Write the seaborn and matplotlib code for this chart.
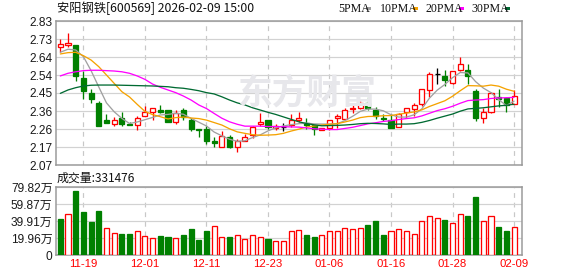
import numpy as np
import matplotlib
matplotlib.use("Agg")
import matplotlib.pyplot as plt
import seaborn as sns
from matplotlib.patches import Rectangle

# ---------------- data ----------------
title = "安阳钢铁[600569] 2026-02-09 15:00"
vol_title = "成交量:331476"
watermark = "东方财富"

opens = [2.694, 2.705, 2.703, 2.529, 2.450, 2.397, 2.308, 2.286, 2.318, 2.288,
         2.280, 2.330, 2.351, 2.360, 2.360, 2.299, 2.360, 2.308, 2.260, 2.262,
         2.197, 2.165, 2.216, 2.165, 2.198, 2.228, 2.286, 2.308, 2.267, 2.269,
         2.281, 2.308, 2.293, 2.280, 2.255, 2.264, 2.320, 2.311, 2.364, 2.372,
         2.396, 2.360, 2.320, 2.308, 2.269, 2.351, 2.364, 2.390, 2.466, 2.550,
         2.540, 2.504, 2.571, 2.571, 2.461, 2.320, 2.351, 2.427, 2.425, 2.390]
highs = [2.733, 2.768, 2.703, 2.568, 2.471, 2.409, 2.339, 2.325, 2.350, 2.297,
         2.329, 2.381, 2.372, 2.387, 2.360, 2.360, 2.369, 2.317, 2.260, 2.276,
         2.220, 2.250, 2.228, 2.207, 2.234, 2.276, 2.343, 2.308, 2.285, 2.293,
         2.338, 2.351, 2.320, 2.280, 2.264, 2.308, 2.338, 2.369, 2.387, 2.417,
         2.427, 2.375, 2.338, 2.338, 2.346, 2.372, 2.399, 2.470, 2.562, 2.580,
         2.571, 2.568, 2.638, 2.603, 2.471, 2.369, 2.454, 2.470, 2.430, 2.466]
lows = [2.665, 2.694, 2.515, 2.420, 2.397, 2.277, 2.290, 2.276, 2.276, 2.280,
        2.253, 2.330, 2.307, 2.343, 2.299, 2.288, 2.307, 2.250, 2.220, 2.179,
        2.167, 2.165, 2.161, 2.137, 2.198, 2.211, 2.276, 2.260, 2.255, 2.250,
        2.269, 2.299, 2.260, 2.228, 2.255, 2.255, 2.264, 2.311, 2.346, 2.364,
        2.360, 2.311, 2.302, 2.267, 2.269, 2.320, 2.329, 2.381, 2.431, 2.496,
        2.487, 2.496, 2.568, 2.496, 2.302, 2.290, 2.343, 2.375, 2.351, 2.390]
closes = [2.707, 2.714, 2.541, 2.462, 2.418, 2.277, 2.290, 2.308, 2.288, 2.280,
          2.318, 2.350, 2.369, 2.351, 2.299, 2.346, 2.325, 2.258, 2.253, 2.198,
          2.188, 2.225, 2.165, 2.197, 2.216, 2.272, 2.295, 2.269, 2.276, 2.269,
          2.308, 2.320, 2.280, 2.258, 2.264, 2.308, 2.330, 2.360, 2.372, 2.396,
          2.369, 2.330, 2.313, 2.267, 2.338, 2.369, 2.387, 2.470, 2.549, 2.550,
          2.519, 2.568, 2.603, 2.541, 2.320, 2.348, 2.448, 2.418, 2.387, 2.436]

ma5 = [2.665, 2.681, 2.677, 2.642, 2.568, 2.482, 2.398, 2.351, 2.316, 2.289,
       2.297, 2.309, 2.321, 2.334, 2.337, 2.343, 2.338, 2.316, 2.296, 2.276,
       2.244, 2.224, 2.206, 2.195, 2.198, 2.215, 2.229, 2.250, 2.266, 2.276,
       2.283, 2.288, 2.291, 2.287, 2.286, 2.286, 2.288, 2.304, 2.327, 2.353,
       2.365, 2.365, 2.356, 2.335, 2.323, 2.323, 2.335, 2.366, 2.423, 2.465,
       2.495, 2.531, 2.558, 2.556, 2.510, 2.476, 2.452, 2.415, 2.384, 2.407]
ma10 = [2.656, 2.663, 2.665, 2.647, 2.624, 2.589, 2.545, 2.501, 2.457, 2.429,
        2.390, 2.353, 2.336, 2.325, 2.313, 2.320, 2.323, 2.318, 2.315, 2.307,
        2.294, 2.281, 2.261, 2.245, 2.237, 2.230, 2.227, 2.228, 2.230, 2.237,
        2.249, 2.259, 2.270, 2.276, 2.281, 2.285, 2.288, 2.297, 2.307, 2.320,
        2.326, 2.327, 2.330, 2.331, 2.338, 2.344, 2.350, 2.361, 2.379, 2.394,
        2.409, 2.433, 2.462, 2.489, 2.488, 2.486, 2.492, 2.486, 2.470, 2.459]
ma20 = [2.540, 2.554, 2.562, 2.568, 2.570, 2.570, 2.568, 2.566, 2.562, 2.554,
        2.540, 2.522, 2.497, 2.480, 2.466, 2.452, 2.434, 2.413, 2.387, 2.368,
        2.342, 2.317, 2.298, 2.285, 2.275, 2.275, 2.275, 2.273, 2.273, 2.272,
        2.271, 2.270, 2.266, 2.261, 2.259, 2.257, 2.257, 2.263, 2.269, 2.278,
        2.287, 2.293, 2.300, 2.304, 2.310, 2.315, 2.319, 2.329, 2.343, 2.357,
        2.367, 2.380, 2.396, 2.410, 2.413, 2.415, 2.421, 2.424, 2.425, 2.427]
ma30 = [2.448, 2.466, 2.478, 2.487, 2.491, 2.492, 2.492, 2.492, 2.491, 2.490,
        2.489, 2.488, 2.487, 2.485, 2.483, 2.478, 2.475, 2.469, 2.462, 2.452,
        2.445, 2.430, 2.413, 2.398, 2.387, 2.372, 2.360, 2.348, 2.337, 2.324,
        2.311, 2.298, 2.289, 2.282, 2.277, 2.278, 2.279, 2.281, 2.284, 2.288,
        2.290, 2.289, 2.287, 2.284, 2.286, 2.286, 2.288, 2.295, 2.305, 2.317,
        2.328, 2.339, 2.354, 2.366, 2.369, 2.372, 2.377, 2.382, 2.385, 2.391]

# volume in 万 (10k)
volumes = [42.3, 47.8, 75.1, 50.5, 38.7, 51.6, 31.3, 25.4, 24.7, 24.7,
           27.8, 21.9, 19.6, 22.3, 21.1, 19.6, 23.5, 30.5, 17.6, 28.2,
           33.6, 21.1, 21.1, 23.1, 18.4, 23.1, 21.1, 18.8, 16.0, 16.0,
           27.8, 29.0, 23.1, 20.8, 23.1, 27.8, 27.8, 31.3, 30.1, 31.3,
           34.8, 39.5, 23.1, 27.8, 30.1, 27.8, 24.3, 39.5, 45.4, 43.1,
           40.7, 37.2, 47.8, 45.4, 68.1, 39.5, 45.4, 32.5, 27.8, 33.15]
# 1 = up day (red hollow), 0 = down day (green)
vol_up = [0, 1, 0, 0, 0, 0, 1, 1, 0, 0,
          1, 1, 1, 0, 0, 1, 0, 0, 0, 0,
          1, 1, 0, 1, 1, 1, 1, 0, 1, 1,
          1, 1, 0, 0, 1, 1, 1, 1, 1, 1,
          0, 0, 0, 1, 1, 1, 1, 1, 1, 1,
          0, 1, 1, 0, 0, 1, 1, 0, 0, 1]

date_tick_idx = [3, 11, 19, 27, 35, 43, 51, 59]
date_labels = ["11-19", "12-01", "12-11", "12-23", "01-06", "01-16", "01-28", "02-09"]
price_min, price_max = 2.07, 2.83
price_tick_labels = ["2.07", "2.17", "2.26", "2.36", "2.45", "2.54", "2.64", "2.73", "2.83"]
vol_max = 79.82
vol_tick_labels = ["0", "19.96万", "39.91万", "59.87万", "79.82万"]

ma_labels = ["5PMA", "10PMA", "20PMA", "30PMA"]
ma_series = [ma5, ma10, ma20, ma30]

# ---------------- style ----------------
sns.set_theme(style="white")
plt.rcParams['font.family'] = ['Liberation Sans', 'Noto Sans CJK SC', 'DejaVu Sans']

RED = "#ff0000"
GREEN = "#008000"
ma_colors = ["#a0a0a0", "#f5a200", "#ff00ff", "#006a32"]
FRAME = "#999999"
GRID = "#d2d2d2"
PX = 0.72  # one pixel in points

W, H = 578, 276
fig = plt.figure(figsize=(W / 100, H / 100), dpi=100)
fig.patch.set_facecolor("white")

def fx(px):
    return px / W

def fy(py):
    return 1 - py / H

L, R = 56, 522
ax = fig.add_axes([fx(L), fy(165), fx(R) - fx(L), fy(21) - fy(165)])
axv = fig.add_axes([fx(L), fy(255), fx(R) - fx(L), fy(187) - fy(255)])

n = len(closes)
x = np.arange(n)
xlim = (-0.56, n + 0.03)
bw = 0.66

# watermark
fig.text(fx(307), fy(93), watermark, ha="center", va="center", fontsize=25,
         fontweight="bold", color="#e7e7eb", family=["Noto Sans CJK SC"], zorder=0)

# ---------------- candles ----------------
for i in range(n):
    o, h, l, c = opens[i], highs[i], lows[i], closes[i]
    if c > o:
        edge, face = RED, "white"
    elif c < o:
        edge, face = GREEN, GREEN
    else:
        edge, face = "black", "black"
    lo_b, hi_b = min(o, c), max(o, c)
    ax.vlines(i, l, lo_b, color=edge, lw=1.0 * PX * 1.3, zorder=3)
    ax.vlines(i, hi_b, h, color=edge, lw=1.0 * PX * 1.3, zorder=3)
    if c == o:
        ax.hlines(c, i - bw / 2, i + bw / 2, color=edge, lw=PX * 1.3, zorder=4)
    else:
        ax.add_patch(Rectangle((i - bw / 2, lo_b), bw, max(hi_b - lo_b, 0.004),
                               facecolor=face, edgecolor=edge, lw=PX * 1.3, zorder=4))

for lab, ser, col in zip(ma_labels, ma_series, ma_colors):
    sns.lineplot(x=x, y=ser, ax=ax, color=col, lw=PX * 1.3, zorder=5,
                 estimator=None, sort=False)

ax.set_xlim(*xlim)
ax.set_ylim(price_min, price_max)
ax.set_yticks(np.linspace(price_min, price_max, len(price_tick_labels)))
ax.set_yticklabels(price_tick_labels)
ax.set_xticks(date_tick_idx)
ax.set_xticklabels([])

# ---------------- volume ----------------
vcols_face = ["white" if u else GREEN for u in vol_up]
vcols_edge = [RED if u else GREEN for u in vol_up]
axv.bar(x, volumes, width=bw, color=vcols_face, edgecolor=vcols_edge,
        linewidth=PX * 1.3, zorder=3)
axv.set_xlim(*xlim)
axv.set_ylim(0, vol_max)
axv.set_yticks(np.linspace(0, vol_max, len(vol_tick_labels)))
axv.set_yticklabels(vol_tick_labels)
axv.set_xticks(date_tick_idx)
axv.set_xticklabels(date_labels)

for a in (ax, axv):
    a.set_xlabel("")
    a.set_ylabel("")
    a.set_axisbelow(True)
    a.yaxis.grid(True, color=GRID, lw=PX * 1.2, ls="-")
    a.xaxis.grid(True, color="#c8c8c8", lw=PX * 1.2, ls=(0, (4, 4)))
    for s in a.spines.values():
        s.set_color(FRAME)
        s.set_linewidth(PX * 1.5)
    a.tick_params(axis="both", length=0, pad=2.5)
    for t in a.get_yticklabels():
        t.set_fontsize(8.6)
        t.set_color("#1a1a1a")
    if a.get_legend() is not None:
        a.get_legend().remove()

for t in axv.get_xticklabels():
    t.set_fontsize(8.2)
    t.set_color(RED)
axv.tick_params(axis="x", pad=3)

# ---------------- header texts ----------------
fig.text(fx(57), fy(8.5), title, ha="left", va="center", fontsize=8.8,
         color="#111111", family=["Noto Sans CJK SC", "DejaVu Sans"])
fig.text(fx(57), fy(178), vol_title, ha="left", va="center", fontsize=8.6,
         color="#111111", family=["Noto Sans CJK SC", "DejaVu Sans"])

leg_text_x = [338.3, 380.0, 425.7, 471.7]
leg_box_x = [365.7, 413.3, 459.3, 505.0]
for lab, col, tx, bx in zip(ma_labels, ma_colors, leg_text_x, leg_box_x):
    fig.text(fx(tx), fy(8.5), lab, ha="left", va="center", fontsize=8.6,
             color="#111111", family=["Liberation Serif"])
    fig.patches.append(Rectangle((fx(bx), fy(10.3)), 5 / W, 3.2 / H,
                                 transform=fig.transFigure, facecolor=col,
                                 edgecolor="none"))

fig.savefig("out.png", dpi=100, facecolor="white")
